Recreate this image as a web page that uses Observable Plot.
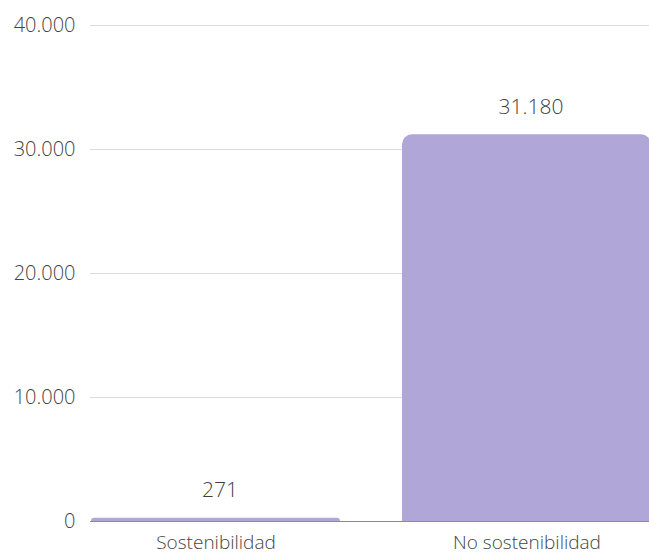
<!DOCTYPE html>
<html>
<head>
<meta charset="utf-8">
<script src="https://cdn.jsdelivr.net/npm/d3@7"></script>
<script src="https://cdn.jsdelivr.net/npm/@observablehq/plot@0.6"></script>
<style>
  html, body { margin: 0; padding: 0; background: #fff; }
  #chart svg { font-family: "Open Sans", sans-serif; font-weight: 300; }
</style>
</head>
<body>
<div id="chart"></div>
<script>
const categories = ["Sostenibilidad", "No sostenibilidad"];
const values = [271, 31180];
const yTicks = [0, 10000, 20000, 30000, 40000];

const data = categories.map((c, i) => ({category: c, value: values[i]}));
const locale = d3.formatLocale({decimal: ",", thousands: ".", grouping: [3], currency: ["", "€"]});
const fmt = locale.format(",d");

const chart = Plot.plot({
  width: 649,
  height: 554,
  marginLeft: 90,
  marginRight: 0,
  marginTop: 25,
  marginBottom: 33,
  style: {background: "#fff", fontFamily: "Open Sans, sans-serif"},
  x: {domain: categories, range: [90, 651], paddingInner: 0.2, paddingOuter: 0, label: null},
  y: {domain: [0, 40000], label: null},
  marks: [
    Plot.gridY(yTicks.filter(d => d > 0), {stroke: "#dcdcdc", strokeOpacity: 1}),
    Plot.barY(data, {x: "category", y: "value", fill: "#b0a6d8", ry1: 10}),
    Plot.ruleY([0], {stroke: "#8a8a8a", strokeWidth: 1}),
    Plot.text(data, {x: "category", y: "value", text: d => fmt(d.value), lineAnchor: "bottom", dy: -21, dx: 4, fontSize: 21, fill: "#3f3f3f", fontWeight: 300}),
    Plot.axisY({ticks: yTicks, tickFormat: fmt, tickSize: 0, tickPadding: 15, fontSize: 20, fill: "#444", fontWeight: 300}),
    Plot.axisX({tickSize: 0, tickPadding: 14, fontSize: 19, fill: "#444", fontWeight: 300})
  ]
});
document.getElementById("chart").appendChild(chart);
</script>
</body>
</html>
